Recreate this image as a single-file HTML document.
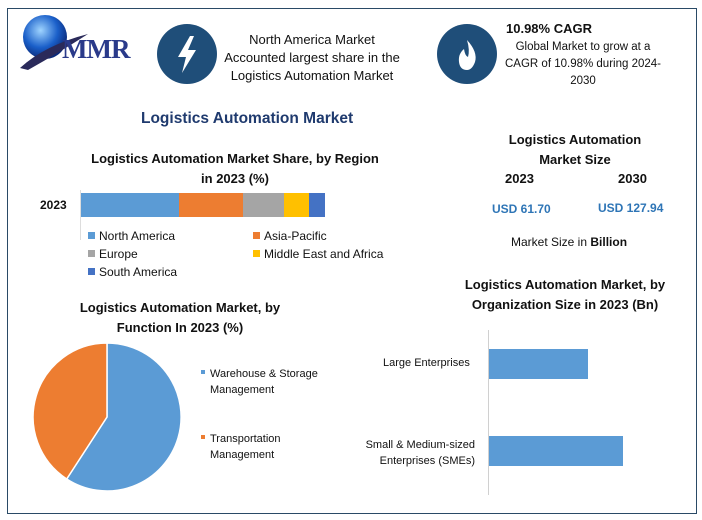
<!DOCTYPE html>
<html><head><meta charset="utf-8"><style>
body{margin:0;background:#fff;}
#c{position:relative;width:702px;height:520px;overflow:hidden;font-family:"Liberation Sans",sans-serif;color:#111;}
.t{position:absolute;white-space:nowrap;}
.b{font-weight:bold;}
.cen{text-align:center;}
</style></head><body><div id="c">
<div style="position:absolute;left:7px;top:8px;width:688px;height:504px;border:1px solid #2a4a66;"></div>
<svg width="702" height="520" style="position:absolute;left:0;top:0">
 <defs><radialGradient id="g" cx="40%" cy="35%" r="65%"><stop offset="0" stop-color="#9fd4ff"/><stop offset="0.6" stop-color="#1a5fc9"/><stop offset="1" stop-color="#0a2a7a"/></radialGradient></defs>
 <circle cx="45" cy="37" r="22" fill="url(#g)"/>
 <path d="M20 68 Q45 45 88 34 Q60 52 28 70Z" fill="#2a2a5a"/>
 <circle cx="187" cy="54" r="30" fill="#1f4e79"/>
 <path d="M190 36 L178 57 L186 57 L182 73 L196 50 L188 50 L194 36Z" fill="#fff"/>
 <circle cx="467" cy="54" r="30" fill="#1f4e79"/>
 <path d="M467 40 Q478 52 475 62 Q472 70 467 70 Q460 70 459 62 Q458 54 464 49 Q465 56 468 57 Q470 50 467 40Z" fill="#fff"/>
 <rect x="81" y="193" width="98" height="24" fill="#5b9bd5"/>
 <rect x="179" y="193" width="64" height="24" fill="#ed7d31"/>
 <rect x="243" y="193" width="41" height="24" fill="#a5a5a5"/>
 <rect x="284" y="193" width="25" height="24" fill="#ffc000"/>
 <rect x="309" y="193" width="16" height="24" fill="#4472c4"/>
 <line x1="80.5" y1="190" x2="80.5" y2="240" stroke="#ddd"/>
 <rect x="88" y="232" width="7" height="7" fill="#5b9bd5"/>
 <rect x="253" y="232" width="7" height="7" fill="#ed7d31"/>
 <rect x="88" y="250" width="7" height="7" fill="#a5a5a5"/>
 <rect x="253" y="250" width="7" height="7" fill="#ffc000"/>
 <rect x="88" y="268" width="7" height="7" fill="#4472c4"/>
 <path d="M107 417 L107 343 A74 74 0 1 1 66.7 479 Z" fill="#5b9bd5" stroke="#fff" stroke-width="1.5"/>
 <path d="M107 417 L66.7 479 A74 74 0 0 1 107 343 Z" fill="#ed7d31" stroke="#fff" stroke-width="1.5"/>
 <rect x="201" y="370" width="4" height="4" fill="#5b9bd5"/>
 <rect x="201" y="435" width="4" height="4" fill="#ed7d31"/>
 <line x1="488.5" y1="330" x2="488.5" y2="495" stroke="#d0d0d0"/>
 <rect x="489" y="349" width="99" height="30" fill="#5b9bd5"/>
 <rect x="489" y="436" width="134" height="30" fill="#5b9bd5"/>
</svg>
<div class="t b" style="left:62px;top:34px;font-family:'Liberation Serif',serif;font-size:27px;color:#2a3a8a;letter-spacing:-1px">MMR</div>
<div class="t cen" style="left:212px;top:31px;width:200px;font-size:13px;line-height:18px">North America Market<br>Accounted largest share in the<br>Logistics Automation Market</div>
<div class="t b" style="left:506px;top:21px;font-size:13px">10.98% CAGR</div>
<div class="t cen" style="left:493px;top:39px;width:180px;font-size:11.5px;line-height:17px">Global Market to grow at a<br>CAGR of 10.98% during 2024-<br>2030</div>
<div class="t b" style="left:141px;top:110px;font-size:15.5px;color:#1f3a6e">Logistics Automation Market</div>
<div class="t b cen" style="left:70px;top:149px;width:330px;font-size:13px;line-height:20px">Logistics Automation Market Share, by Region<br>in 2023 (%)</div>
<div class="t b" style="left:40px;top:198px;font-size:12px">2023</div>
<div class="t" style="left:99px;top:229px;font-size:12px">North America</div>
<div class="t" style="left:264px;top:229px;font-size:12px">Asia-Pacific</div>
<div class="t" style="left:99px;top:247px;font-size:12px">Europe</div>
<div class="t" style="left:264px;top:247px;font-size:12px">Middle East and Africa</div>
<div class="t" style="left:99px;top:265px;font-size:12px">South America</div>
<div class="t b cen" style="left:40px;top:298px;width:280px;font-size:13px;line-height:20px">Logistics Automation Market, by<br>Function In 2023 (%)</div>
<div class="t" style="left:210px;top:366px;font-size:11px;line-height:16px">Warehouse &amp; Storage<br>Management</div>
<div class="t" style="left:210px;top:431px;font-size:11px;line-height:16px">Transportation<br>Management</div>
<div class="t b cen" style="left:470px;top:130px;width:210px;font-size:13px;line-height:20px">Logistics Automation<br>Market Size</div>
<div class="t b" style="left:505px;top:171px;font-size:13px">2023</div>
<div class="t b" style="left:618px;top:171px;font-size:13px">2030</div>
<div class="t b" style="left:492px;top:202px;font-size:12px;color:#2e75b6">USD 61.70</div>
<div class="t b" style="left:598px;top:201px;font-size:12px;color:#2e75b6">USD 127.94</div>
<div class="t" style="left:511px;top:235px;font-size:12px">Market Size in <b>Billion</b></div>
<div class="t b cen" style="left:440px;top:275px;width:250px;font-size:13px;line-height:20px">Logistics Automation Market, by<br>Organization Size in 2023 (Bn)</div>
<div class="t" style="left:383px;top:357px;font-size:11px">Large Enterprises</div>
<div class="t" style="left:353px;top:437px;width:122px;text-align:right;font-size:11px;line-height:16px">Small &amp; Medium-sized<br>Enterprises (SMEs)</div>
</div></body></html>
